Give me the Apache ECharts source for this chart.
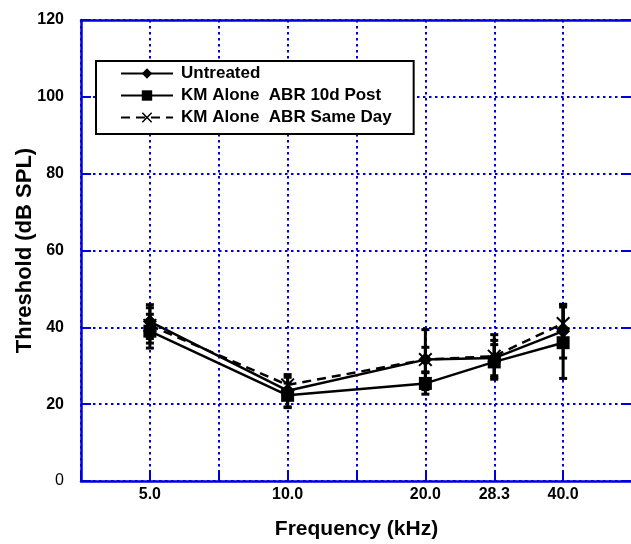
<!DOCTYPE html>
<html>
<head>
<meta charset="utf-8">
<script src="https://cdn.jsdelivr.net/npm/echarts@6/dist/echarts.min.js"></script>
<style>html,body{margin:0;padding:0;background:#fff;}#chart{width:631px;height:544px;}</style>
</head>
<body>
<div id="chart"></div>
<script>
// Frequency tick labels and their slot on the (evenly ticked) frequency axis
var freqLabels = ['5.0', '10.0', '20.0', '28.3', '40.0'];
var freqSlots = [1, 3, 5, 6, 7];

// Threshold means (dB SPL) and error (±)
var untreated = [41.5, 23.5, 31.6, 32.0, 39.0];
var untreatedErr = [4.4, 4.2, 3.2, 4.6, 7.0];
var km10d = [39.0, 22.3, 25.4, 31.0, 36.0];
var km10dErr = [4.4, 3.2, 2.8, 4.5, 9.3];
var kmSameDay = [40.5, 25.0, 31.6, 32.5, 41.0];
var kmSameDayErr = [4.6, 2.0, 7.8, 5.6, 4.9];

var seriesNames = ['Untreated', 'KM Alone  ABR 10d Post', 'KM Alone  ABR Same Day'];
var yTicks = [0, 20, 40, 60, 80, 100, 120];

var BLUE = '#0000dd';
var FONT = '"Liberation Sans", Arial, Helvetica, sans-serif';

function pts(vals) { return vals.map(function (v, i) { return [freqSlots[i], v]; }); }
function errPts(vals, errs) { return vals.map(function (v, i) { return [freqSlots[i], v - errs[i], v + errs[i]]; }); }

function renderErr(params, api) {
  var x = api.value(0);
  var lo = api.coord([x, api.value(1)]);
  var hi = api.coord([x, api.value(2)]);
  var cw = 4;
  var st = { stroke: '#000', lineWidth: 3 };
  var cs = { stroke: '#000', lineWidth: 3 };
  return { type: 'group', children: [
    { type: 'line', shape: { x1: lo[0], y1: lo[1], x2: hi[0], y2: hi[1] }, style: st },
    { type: 'line', shape: { x1: lo[0] - cw, y1: lo[1], x2: lo[0] + cw, y2: lo[1] }, style: cs },
    { type: 'line', shape: { x1: hi[0] - cw, y1: hi[1], x2: hi[0] + cw, y2: hi[1] }, style: cs }
  ]};
}

var xSymbol = 'path://M0,1 L1,0 L5,4 L9,0 L10,1 L6,5 L10,9 L9,10 L5,6 L1,10 L0,9 L4,5 Z';

var chart = echarts.init(document.getElementById('chart'));
chart.setOption({
  animation: false,
  textStyle: { fontFamily: FONT },
  grid: { left: 81, top: 20, width: 551, height: 461, containLabel: false, outerBoundsMode: 'none' },
  legend: {
    data: seriesNames,
    orient: 'vertical',
    left: 96, top: 61,
    padding: [4, 22, 8, 24],
    itemWidth: 52, itemHeight: 13, itemGap: 5,
    backgroundColor: '#fff',
    borderColor: '#000', borderWidth: 2,
    textStyle: { fontFamily: FONT, fontWeight: 'bold', fontSize: 17, color: '#000', padding: [0, 0, 0, 3] }
  },
  xAxis: [{
    type: 'value', min: 0, max: 8, interval: 1,
    name: 'Frequency (kHz)', nameLocation: 'middle', nameGap: 38, nameMoveOverlap: false,
    nameTextStyle: { fontFamily: FONT, fontWeight: 'bold', fontSize: 21, color: '#000' },
    axisLine: { show: true, onZero: false, lineStyle: { color: BLUE, width: 2.5 } },
    axisTick: { show: true, inside: true, length: 10, lineStyle: { color: BLUE, width: 2 } },
    axisLabel: { margin: 6, fontFamily: FONT, fontWeight: 'bold', fontSize: 16, color: '#000',
      formatter: function (v) { var i = freqSlots.indexOf(v); return i >= 0 ? freqLabels[i] : ''; } },
    splitLine: { show: true, lineStyle: { color: BLUE, width: 2, type: [2.5, 3.5] } }
  }, {
    type: 'value', min: 0, max: 8, position: 'top',
    axisLine: { show: true, onZero: false, lineStyle: { color: BLUE, width: 2.5 } },
    axisTick: { show: false }, axisLabel: { show: false }, splitLine: { show: false }
  }],
  yAxis: [{
    type: 'value', min: yTicks[0], max: yTicks[yTicks.length - 1], interval: 20,
    name: 'Threshold (dB SPL)', nameLocation: 'middle', nameGap: 45, nameMoveOverlap: false,
    nameTextStyle: { fontFamily: FONT, fontWeight: 'bold', fontSize: 22, color: '#000' },
    axisLine: { show: true, onZero: false, lineStyle: { color: BLUE, width: 2.5 } },
    axisTick: { show: true, inside: true, length: 10, lineStyle: { color: BLUE, width: 2 } },
    axisLabel: { margin: 17, color: '#000',
      formatter: function (v) { return v === 0 ? '{n|0}' : '{b|' + v + '}'; },
      rich: { n: { fontFamily: FONT, fontSize: 16, fontWeight: 'normal', color: '#000' },
              b: { fontFamily: FONT, fontSize: 16, fontWeight: 'bold', color: '#000' } } },
    splitLine: { show: true, lineStyle: { color: BLUE, width: 2, type: [2.5, 3.5] } }
  }, {
    type: 'value', min: yTicks[0], max: yTicks[yTicks.length - 1], interval: 20, position: 'right',
    axisLine: { show: true, onZero: false, lineStyle: { color: BLUE, width: 2 } },
    axisTick: { show: true, inside: true, length: 10, lineStyle: { color: BLUE, width: 2 } },
    axisLabel: { show: false }, splitLine: { show: false }
  }],
  series: [
    { type: 'custom', name: 'errU', renderItem: renderErr, data: errPts(untreated, untreatedErr), z: 3, silent: true },
    { type: 'custom', name: 'errK', renderItem: renderErr, data: errPts(km10d, km10dErr), z: 3, silent: true },
    { type: 'custom', name: 'errS', renderItem: renderErr, data: errPts(kmSameDay, kmSameDayErr), z: 3, silent: true },
    { type: 'line', name: seriesNames[0], data: pts(untreated), symbol: 'diamond', symbolSize: 14,
      lineStyle: { color: '#000', width: 2.5 }, itemStyle: { color: '#000' }, z: 4 },
    { type: 'line', name: seriesNames[1], data: pts(km10d), symbol: 'rect', symbolSize: 13,
      lineStyle: { color: '#000', width: 2.5 }, itemStyle: { color: '#000' }, z: 4 },
    { type: 'line', name: seriesNames[2], data: pts(kmSameDay), symbol: xSymbol, symbolSize: 14,
      lineStyle: { color: '#000', width: 2.5, type: [9, 6] }, itemStyle: { color: '#000' }, z: 4 }
  ]
});
</script>
</body>
</html>
